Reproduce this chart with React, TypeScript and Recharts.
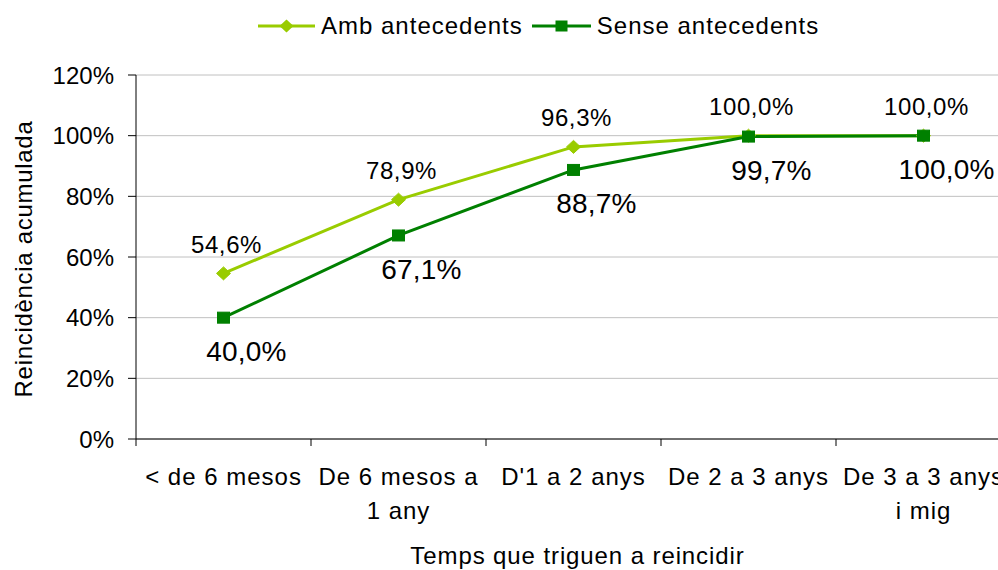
import React from "react";
import { LineChart, Line, XAxis, YAxis, CartesianGrid, Legend, LabelList } from "recharts";

const categories = ["< de 6 mesos", "De 6 mesos a 1 any", "D'1 a 2 anys", "De 2 a 3 anys", "De 3 a 3 anys i mig"];
const ambValues = [54.6, 78.9, 96.3, 100.0, 100.0];
const senseValues = [40.0, 67.1, 88.7, 99.7, 100.0];
const yTicks = [0, 20, 40, 60, 80, 100, 120];
const seriesNames = ["Amb antecedents", "Sense antecedents"];
const xTitle = "Temps que triguen a reincidir";
const yTitle = "Reincidència acumulada";

const FONT = "'Liberation Sans', Arial, sans-serif";
const AMB = "#99CC00";
const SENSE = "#008000";

const data = categories.map((cat, i) => ({ pos: i + 0.5, cat, amb: ambValues[i], sense: senseValues[i] }));
const edgeTicks = [...categories.map((_, i) => i), categories.length];
const labelTicks = data.map((d) => d.pos);

const fmt = (v: number) => v.toFixed(1).replace(".", ",") + "%";

let measureCtx: CanvasRenderingContext2D | null = null;
const measure = (s: string, size: number, spacing: number) => {
  if (!measureCtx && typeof document !== "undefined") {
    measureCtx = document.createElement("canvas").getContext("2d");
  }
  if (!measureCtx) return s.length * size * 0.55;
  measureCtx.font = `${size}px 'Liberation Sans', Arial, sans-serif`;
  return measureCtx.measureText(s).width + spacing * s.length;
};

const wrapWords = (s: string, maxWidth: number, size: number, spacing: number) => {
  const words = s.split(" ");
  const lines: string[] = [];
  let cur = "";
  words.forEach((w) => {
    const cand = cur ? cur + " " + w : w;
    if (cur && measure(cand, size, spacing) > maxWidth) {
      lines.push(cur);
      cur = w;
    } else {
      cur = cand;
    }
  });
  if (cur) lines.push(cur);
  return lines;
};

const XTick = (props: any) => {
  const { x, y, payload } = props;
  const idx = Math.floor(payload.value);
  const lines = wrapWords(categories[idx] ?? "", 172, 24, 1);
  return (
    <text x={x} y={y + 45} textAnchor="middle" fill="#000" style={{ fontSize: 24, letterSpacing: 1, fontFamily: FONT }}>
      {lines.map((l, i) => (
        <tspan key={i} x={x} dy={i === 0 ? 0 : 34}>
          {l}
        </tspan>
      ))}
    </text>
  );
};

const EmptyTick = () => <g />;

const Diamond = (props: any) => {
  const { cx, cy, index } = props;
  if (cx == null || cy == null) return <g key={index} />;
  return (
    <polygon
      key={index}
      points={`${cx - 7},${cy} ${cx},${cy - 6.5} ${cx + 7},${cy} ${cx},${cy + 6.5}`}
      fill={AMB}
      stroke={AMB}
    />
  );
};

const Square = (props: any) => {
  const { cx, cy, index } = props;
  if (cx == null || cy == null) return <g key={index} />;
  return <rect key={index} x={cx - 6} y={cy - 5.5} width={12} height={11} fill={SENSE} stroke={SENSE} />;
};

const AmbLabel = (props: any) => {
  const { x, y, value } = props;
  return (
    <text x={x + 3} y={y - 29} textAnchor="middle" dominantBaseline="central" fill="#000"
      style={{ fontSize: 24, letterSpacing: 0.6, fontFamily: FONT }}>
      {fmt(value)}
    </text>
  );
};

const SenseLabel = (props: any) => {
  const { x, y, value } = props;
  return (
    <text x={x + 23} y={y + 34} textAnchor="middle" dominantBaseline="central" fill="#000"
      style={{ fontSize: 28, letterSpacing: 0.2, fontFamily: FONT }}>
      {fmt(value)}
    </text>
  );
};

const LegendBox = () => (
  <div style={{ display: "flex", alignItems: "center", height: 36, fontFamily: FONT, fontSize: 24, letterSpacing: 1, color: "#000", whiteSpace: "nowrap" }}>
    <svg width={57} height={20}>
      <line x1={0} y1={10} x2={57} y2={10} stroke={AMB} strokeWidth={3} />
      <polygon points="21.5,10 28.5,3.5 35.5,10 28.5,16.5" fill={AMB} />
    </svg>
    <span style={{ marginLeft: 6 }}>{seriesNames[0]}</span>
    <svg width={59} height={20} style={{ marginLeft: 9 }}>
      <line x1={0} y1={10} x2={59} y2={10} stroke={SENSE} strokeWidth={3} />
      <rect x={23.5} y={4.5} width={12} height={11} fill={SENSE} />
    </svg>
    <span style={{ marginLeft: 6 }}>{seriesNames[1]}</span>
  </div>
);

export default function App() {
  return (
    <div style={{ position: "absolute", left: 0, top: 0, width: 998, height: 570, overflow: "hidden", background: "#fff" }}>
      <LineChart width={1040} height={570} data={data} margin={{ top: 75, right: 29, bottom: 0, left: 0 }}>
        <CartesianGrid vertical={false} stroke="#c0c0c0" strokeWidth={1} xAxisId="labels" />
        <XAxis
          xAxisId="edges"
          type="number"
          dataKey="pos"
          domain={[0, categories.length]}
          allowDataOverflow
          ticks={edgeTicks}
          interval={0}
          tick={<EmptyTick />}
          tickSize={7}
          height={1}
          axisLine={{ stroke: "#000", strokeWidth: 1 }}
          tickLine={{ stroke: "#000", strokeWidth: 1 }}
        />
        <XAxis
          xAxisId="labels"
          type="number"
          dataKey="pos"
          domain={[0, categories.length]}
          allowDataOverflow
          ticks={labelTicks}
          interval={0}
          tick={<XTick />}
          tickSize={0}
          tickMargin={0}
          height={130}
          axisLine={false}
          tickLine={false}
          label={{
            content: (p: any) => {
              const vb = p.viewBox;
              return (
                <text x={vb.x + vb.width / 2 + 4} y={vb.y + 124} textAnchor="middle" fill="#000"
                  style={{ fontSize: 24, letterSpacing: 0.9, fontFamily: FONT }}>
                  {xTitle}
                </text>
              );
            },
          }}
        />
        <YAxis
          domain={[0, 120]}
          ticks={yTicks}
          interval={0}
          width={136}
          tickSize={8}
          tickMargin={14}
          tickFormatter={(v: number) => `${v}%`}
          tick={{ fill: "#000", fontSize: 24, fontFamily: FONT }}
          axisLine={{ stroke: "#000", strokeWidth: 1 }}
          tickLine={{ stroke: "#000", strokeWidth: 1 }}
          label={{
            content: (p: any) => {
              const vb = p.viewBox;
              const cx = vb.x + 23;
              const cy = vb.y + vb.height / 2 + 2;
              return (
                <text x={cx} y={cy} transform={`rotate(-90, ${cx}, ${cy})`} textAnchor="middle" dominantBaseline="central" fill="#000"
                  style={{ fontSize: 24, letterSpacing: 0.7, fontFamily: FONT }}>
                  {yTitle}
                </text>
              );
            },
          }}
        />
        <Legend
          layout="horizontal"
          verticalAlign="middle"
          align="center"
          wrapperStyle={{ top: 8, left: 258, width: 600, height: 36 }}
          content={() => <LegendBox />}
        />
        <Line
          xAxisId="edges"
          type="linear"
          dataKey="amb"
          name={seriesNames[0]}
          stroke={AMB}
          strokeWidth={3}
          dot={<Diamond />}
          activeDot={false}
          isAnimationActive={false}
        >
          <LabelList dataKey="amb" content={<AmbLabel />} />
        </Line>
        <Line
          xAxisId="labels"
          type="linear"
          dataKey="sense"
          name={seriesNames[1]}
          stroke={SENSE}
          strokeWidth={3}
          dot={<Square />}
          activeDot={false}
          isAnimationActive={false}
        >
          <LabelList dataKey="sense" content={<SenseLabel />} />
        </Line>
      </LineChart>
    </div>
  );
}
